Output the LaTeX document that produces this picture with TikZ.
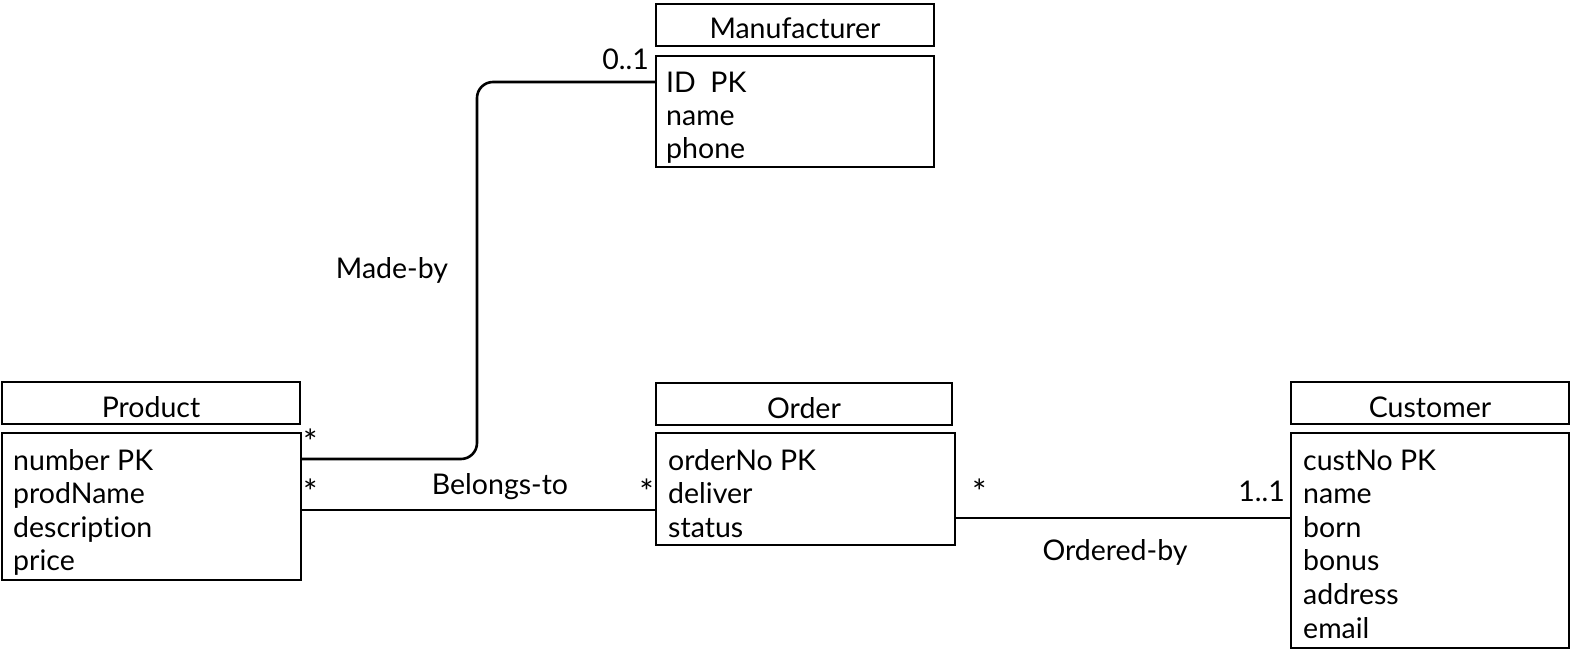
\documentclass[tikz,border=0pt]{standalone}
\usepackage{fontspec}
\setmainfont{Lato}[Ligatures=NoCommon]
\usetikzlibrary{calc}
\newcommand{\umlfont}{\fontsize{28.5}{32}\selectfont}
\newcommand{\mult}{\raisebox{-2pt}{\fontsize{34}{34}\selectfont *}}
\begin{document}
\begin{tikzpicture}[x=1pt,y=-1pt,
  box/.style={draw, line width=2.6pt, anchor=north west, inner sep=0pt, outer sep=0pt},
  hdr/.style={box, minimum height=42pt, font=\umlfont, text height=28pt, text depth=0pt},
  attr/.style={anchor=base west, inner sep=0pt, font=\umlfont},
  lbl/.style={inner sep=0pt, font=\umlfont},
  conn/.style={line width=2.6pt}]
\useasboundingbox (0,0) rectangle (1572,652);

% Product
\node[hdr, minimum width=298pt] (prodH) at (2,382) {Product};
\node[box, minimum width=299pt, minimum height=147pt] (prodB) at (2,433) {};
\foreach \t [count=\i] in {number PK, prodName, description, price}
  \node[attr] (prodA\i) at ($(prodB.north west)+(11,{37+33.6*(\i-1)})$) {\t};

% Manufacturer
\node[hdr, minimum width=278pt] (manH) at (656,4) {Manufacturer};
\node[box, minimum width=278pt, minimum height=111pt] (manB) at (656,56) {};
\foreach \t [count=\i] in {ID~~PK, name, phone}
  \node[attr] (manA\i) at ($(manB.north west)+(10,{37+33*(\i-1)})$) {\t};

% Order
\node[hdr, minimum width=296pt] (ordH) at (656,383) {Order};
\node[box, minimum width=299pt, minimum height=112pt] (ordB) at (656,433) {};
\foreach \t [count=\i] in {orderNo PK, deliver, status}
  \node[attr] (ordA\i) at ($(ordB.north west)+(12,{37+33.6*(\i-1)})$) {\t};

% Customer
\node[hdr, minimum width=278pt] (custH) at (1291,382) {Customer};
\node[box, minimum width=278pt, minimum height=215pt] (custB) at (1291,433) {};
\foreach \t [count=\i] in {custNo PK, name, born, bonus, address, email}
  \node[attr] (custA\i) at ($(custB.north west)+(12,{37+33.6*(\i-1)})$) {\t};

% Connectors
\draw[conn, rounded corners=16pt] ([yshift=-26pt]prodB.north east)
  -| ($([yshift=-26pt]manB.north west)+(-179,0)$) -- ([yshift=-26pt]manB.north west);
\draw[conn] ([yshift=-77pt]prodB.north east) -- ([yshift=-77pt]ordB.north west);
\draw[conn] ([yshift=-85pt]ordB.north east) -- ([yshift=-85pt]custB.north west);

% Labels
\node[lbl, anchor=base east] (m01) at (649,70) {0..1};
\node[lbl, anchor=base] (madeby) at (392,279) {Made-by};
\node[lbl, anchor=base west] (s1) at (303,452) {\mult};
\node[lbl, anchor=base west] (s2) at (303,502) {\mult};
\node[lbl, anchor=base] (belongs) at (500,494) {Belongs-to};
\node[lbl, anchor=base east] (s3) at (654,502) {\mult};
\node[lbl, anchor=base west] (s4) at (972,502) {\mult};
\node[lbl, anchor=base east] (m11) at (1285,501) {1..1};
\node[lbl, anchor=base] (orderedby) at (1115,560) {Ordered-by};
\end{tikzpicture}
\end{document}
